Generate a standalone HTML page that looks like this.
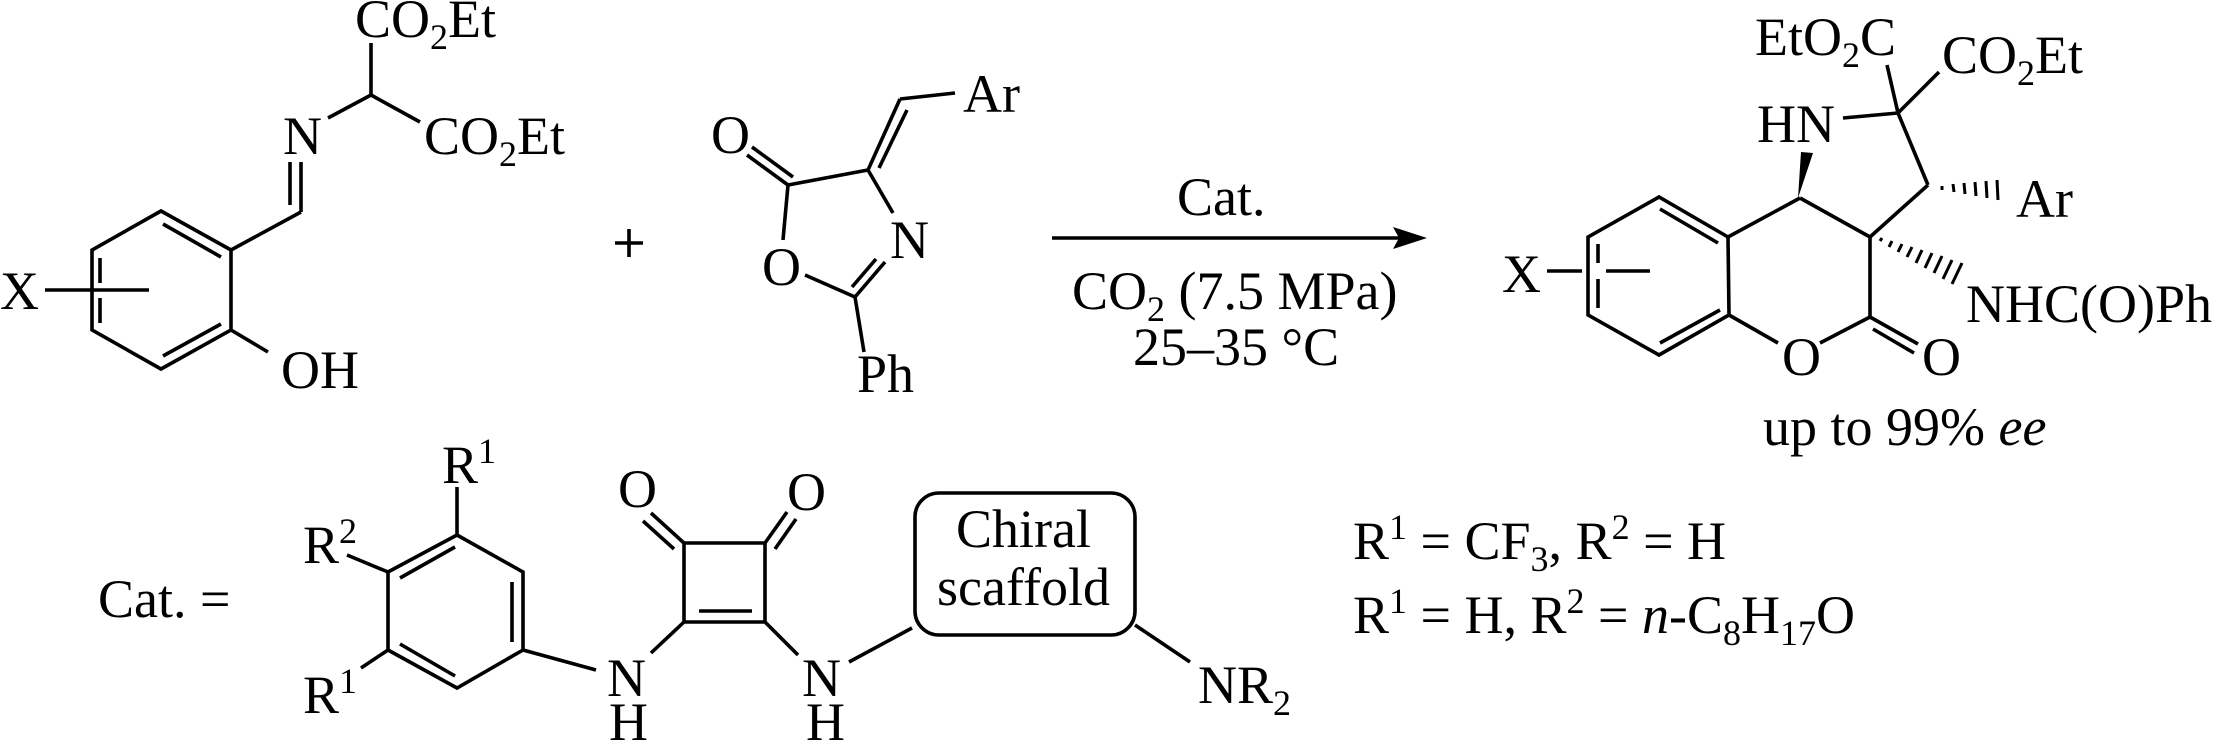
<!DOCTYPE html>
<html><head><meta charset="utf-8"><style>
html,body{margin:0;padding:0;background:#fff;}
svg{display:block;}
text{font-family:"Liberation Serif",serif;font-size:54px;fill:#000;}
.s{font-size:36px;}
</style></head><body>
<svg width="2213" height="743" viewBox="0 0 2213 743" xmlns="http://www.w3.org/2000/svg">
<g stroke="#000" stroke-width="3.6" fill="none" stroke-linecap="butt">
<!-- left reactant -->
<line x1="371" y1="43" x2="371" y2="95"/>
<line x1="371" y1="95" x2="328" y2="118"/>
<line x1="371" y1="95" x2="420" y2="122"/>
<line x1="301" y1="162" x2="301" y2="212"/>
<line x1="290" y1="162" x2="290" y2="205"/>
<line x1="301" y1="212" x2="231" y2="250"/>
<polyline points="231,250 161,211 92,250 92,330 161,369 231,330 231,250"/>
<line x1="163" y1="224" x2="221" y2="257"/>
<line x1="100" y1="258" x2="100" y2="283"/>
<line x1="100" y1="298" x2="100" y2="323"/>
<line x1="163" y1="356" x2="221" y2="324"/>
<line x1="45" y1="290" x2="149" y2="290"/>
<line x1="231" y1="330" x2="268" y2="352"/>
<!-- plus -->
<line x1="615" y1="243" x2="643" y2="243"/>
<line x1="629" y1="229" x2="629" y2="257"/>
<!-- oxazolone -->
<line x1="900" y1="99" x2="955" y2="93"/>
<line x1="900" y1="99" x2="868" y2="170"/>
<line x1="907" y1="110" x2="879" y2="168"/>
<line x1="868" y1="170" x2="788" y2="185"/>
<line x1="788" y1="185" x2="747" y2="155"/>
<line x1="793" y1="177" x2="752" y2="147"/>
<line x1="788" y1="185" x2="783" y2="240"/>
<line x1="868" y1="170" x2="893" y2="213"/>
<line x1="885" y1="262" x2="855" y2="297"/>
<line x1="876" y1="259" x2="852" y2="287"/>
<line x1="805" y1="275" x2="855" y2="297"/>
<line x1="855" y1="297" x2="864" y2="352"/>
<!-- arrow -->
<line x1="1052" y1="238" x2="1400" y2="238"/>
</g>
<polygon points="1427,238 1393,227 1399,238 1393,249" fill="#000"/>
<g stroke="#000" stroke-width="3.6" fill="none">
<!-- product -->
<polyline points="1728,237 1659,197 1588,237 1588,315 1659,355 1729,315 1728,237"/>
<line x1="1660" y1="209" x2="1718" y2="243"/>
<line x1="1598" y1="244" x2="1598" y2="263"/>
<line x1="1598" y1="279" x2="1598" y2="308"/>
<line x1="1660" y1="343" x2="1720" y2="310"/>
<line x1="1547" y1="271" x2="1582" y2="271"/>
<line x1="1606" y1="271" x2="1650" y2="271"/>
<line x1="1728" y1="237" x2="1800" y2="198"/>
<line x1="1800" y1="198" x2="1870" y2="237"/>
<line x1="1870" y1="237" x2="1928" y2="185"/>
<line x1="1928" y1="185" x2="1898" y2="113"/>
<line x1="1898" y1="113" x2="1843" y2="118"/>
<line x1="1898" y1="113" x2="1887" y2="65"/>
<line x1="1898" y1="113" x2="1939" y2="72"/>
<line x1="1870" y1="237" x2="1870" y2="317"/>
<line x1="1729" y1="315" x2="1778" y2="343"/>
<line x1="1820" y1="343" x2="1870" y2="317"/>
<line x1="1870" y1="317" x2="1918" y2="344"/>
<line x1="1873" y1="329" x2="1914" y2="353"/>
<!-- catalyst -->
<line x1="457" y1="487" x2="457" y2="535"/>
<polyline points="457,535 523,572 523,650 457,688 388,650 388,572 457,535"/>
<line x1="400" y1="578" x2="455" y2="547"/>
<line x1="512" y1="582" x2="512" y2="642"/>
<line x1="400" y1="644" x2="455" y2="676"/>
<line x1="347" y1="555" x2="388" y2="572"/>
<line x1="361" y1="668" x2="388" y2="650"/>
<line x1="523" y1="650" x2="596" y2="670"/>
<line x1="651" y1="653" x2="684" y2="622"/>
<polyline points="684,622 684,543 765,543 765,622 684,622"/>
<line x1="699" y1="611" x2="752" y2="611"/>
<line x1="684" y1="543" x2="651" y2="513"/>
<line x1="674" y1="549" x2="643" y2="521"/>
<line x1="765" y1="543" x2="787" y2="512"/>
<line x1="775" y1="549" x2="796" y2="519"/>
<line x1="765" y1="622" x2="798" y2="655"/>
<line x1="849" y1="662" x2="912" y2="628"/>
<rect x="915" y="493" width="220" height="142" rx="24" ry="24"/>
<line x1="1135" y1="625" x2="1190" y2="662"/>
</g>
<!-- wedge -->
<polygon points="1798,198 1801,152 1813,153" fill="#000"/>
<!-- hashed bonds -->
<g stroke="#000" stroke-width="3">
<line x1="1942" y1="186" x2="1942" y2="190"/>
<line x1="1953" y1="184" x2="1954" y2="192"/>
<line x1="1964" y1="183" x2="1965" y2="194"/>
<line x1="1975" y1="182" x2="1976" y2="196"/>
<line x1="1986" y1="181" x2="1987" y2="198"/>
<line x1="1997" y1="180" x2="1998" y2="200"/>
<line x1="1880" y1="241" x2="1882" y2="238"/>
<line x1="1889" y1="247" x2="1892" y2="241"/>
<line x1="1898" y1="252" x2="1902" y2="244"/>
<line x1="1907" y1="257" x2="1912" y2="247"/>
<line x1="1916" y1="263" x2="1922" y2="250"/>
<line x1="1925" y1="268" x2="1932" y2="253"/>
<line x1="1934" y1="273" x2="1942" y2="256"/>
<line x1="1943" y1="279" x2="1952" y2="260"/>
<line x1="1952" y1="284" x2="1962" y2="263"/>
</g>
<!-- texts left reactant -->
<text x="355" y="37">CO<tspan class="s" dy="12">2</tspan><tspan dy="-12">Et</tspan></text>
<text x="283" y="154">N</text>
<text x="424" y="154">CO<tspan class="s" dy="12">2</tspan><tspan dy="-12">Et</tspan></text>
<text x="0" y="309">X</text>
<text x="281" y="388">OH</text>
<!-- oxazolone text -->
<text x="963" y="112">Ar</text>
<text x="711" y="153">O</text>
<text x="762" y="285">O</text>
<text x="890" y="258">N</text>
<text x="857" y="392">Ph</text>
<!-- conditions -->
<text x="1177" y="215">Cat.</text>
<text x="1072" y="309">CO<tspan class="s" dy="12">2</tspan><tspan dy="-12"> (7.5 MPa)</tspan></text>
<text x="1133" y="365">25–35 °C</text>
<!-- product texts -->
<text x="1755" y="55">EtO<tspan class="s" dy="12">2</tspan><tspan dy="-12">C</tspan></text>
<text x="1942" y="73">CO<tspan class="s" dy="12">2</tspan><tspan dy="-12">Et</tspan></text>
<text x="1757" y="142">HN</text>
<text x="2016" y="217">Ar</text>
<text x="1502" y="292">X</text>
<text x="1966" y="322">NHC(O)Ph</text>
<text x="1782" y="375">O</text>
<text x="1922" y="375">O</text>
<text x="1763" y="445">up to 99% <tspan font-style="italic">ee</tspan></text>
<!-- catalyst texts -->
<text x="98" y="617">Cat. =</text>
<text x="442" y="483">R<tspan class="s" dy="-20">1</tspan></text>
<text x="303" y="563">R<tspan class="s" dy="-20">2</tspan></text>
<text x="303" y="713">R<tspan class="s" dy="-20">1</tspan></text>
<text x="618" y="507">O</text>
<text x="787" y="510">O</text>
<text x="607" y="696">N</text>
<text x="609" y="740">H</text>
<text x="802" y="696">N</text>
<text x="806" y="740">H</text>
<text x="956" y="547">Chiral</text>
<text x="937" y="605">scaffold</text>
<text x="1198" y="703">NR<tspan class="s" dy="12">2</tspan></text>
<text x="1353" y="559">R<tspan class="s" dy="-20">1</tspan><tspan dy="20"> = CF</tspan><tspan class="s" dy="12">3</tspan><tspan dy="-12">, R</tspan><tspan class="s" dy="-20">2</tspan><tspan dy="20"> = H</tspan></text>
<text x="1353" y="633">R<tspan class="s" dy="-20">1</tspan><tspan dy="20"> = H, R</tspan><tspan class="s" dy="-20">2</tspan><tspan dy="20"> = </tspan><tspan font-style="italic">n</tspan><tspan>-C</tspan><tspan class="s" dy="12">8</tspan><tspan dy="-12">H</tspan><tspan class="s" dy="12">17</tspan><tspan dy="-12">O</tspan></text>
</svg>
</body></html>
